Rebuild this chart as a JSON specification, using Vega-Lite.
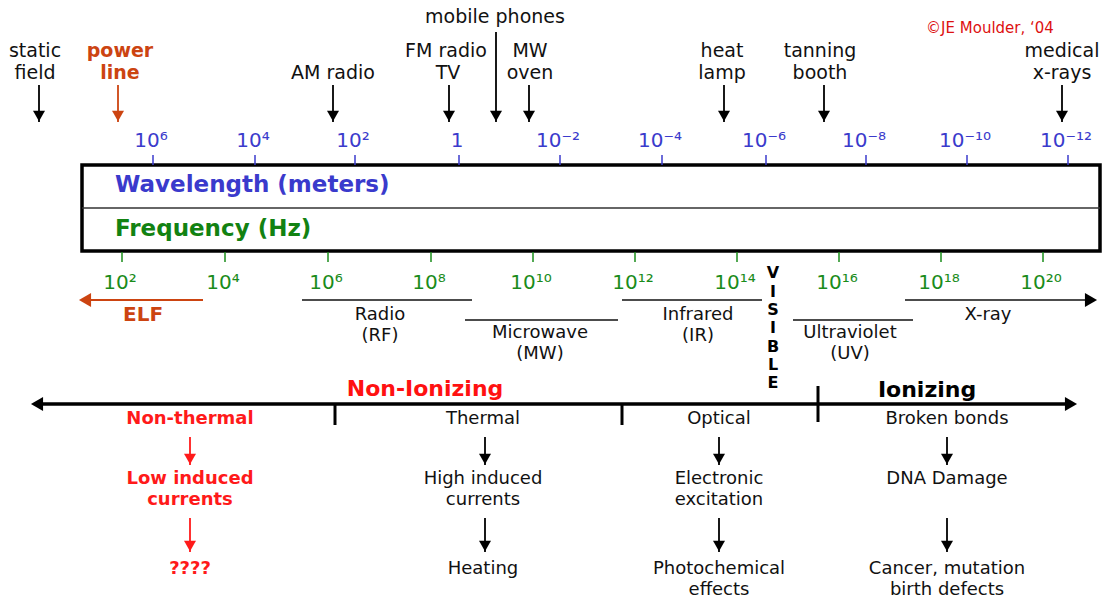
{
  "$schema": "https://vega.github.io/schema/vega-lite/v6.json",
  "width": 1117,
  "height": 607,
  "autosize": {"type": "fit", "contains": "padding"},
  "padding": 0,
  "background": "white",
  "config": {"view": {"stroke": null}, "text": {"font": "DejaVu Sans"}},
  "datasets": {
    "box": [{"x": 82, "x2": 1100, "y": 165, "y2": 251}],
    "hlines": [
      {"x": 82, "x2": 1100, "y": 208, "role": "mid"},
      {"x": 302, "x2": 472, "y": 300, "role": "band"},
      {"x": 465, "x2": 618, "y": 320, "role": "band"},
      {"x": 622, "x2": 762, "y": 300, "role": "band"},
      {"x": 793, "x2": 913, "y": 320, "role": "band"},
      {"x": 905, "x2": 1090, "y": 300, "role": "band"},
      {"x": 86, "x2": 203, "y": 300, "role": "elf"},
      {"x": 40, "x2": 1068, "y": 404, "role": "axis"}
    ],
    "vlines": [
      {"x": 335, "y": 404, "y2": 425},
      {"x": 622, "y": 404, "y2": 425},
      {"x": 818, "y": 386, "y2": 422}
    ],
    "hheads": [
      {"x": 78, "y": 300, "dir": "left", "role": "org"},
      {"x": 1098, "y": 300, "dir": "right", "role": "blk"},
      {"x": 30, "y": 404, "dir": "left", "role": "blk"},
      {"x": 1078, "y": 404, "dir": "right", "role": "blk"}
    ],
    "arrows": [
      {"x": 39, "y": 85, "y2": 122, "role": "blk"},
      {"x": 118, "y": 85, "y2": 122, "role": "org"},
      {"x": 333, "y": 85, "y2": 122, "role": "blk"},
      {"x": 449, "y": 85, "y2": 122, "role": "blk"},
      {"x": 496, "y": 32, "y2": 122, "role": "blk"},
      {"x": 529, "y": 85, "y2": 122, "role": "blk"},
      {"x": 724, "y": 85, "y2": 122, "role": "blk"},
      {"x": 824, "y": 85, "y2": 122, "role": "blk"},
      {"x": 1062, "y": 85, "y2": 122, "role": "blk"},
      {"x": 190, "y": 437, "y2": 465, "role": "red"},
      {"x": 190, "y": 518, "y2": 552, "role": "red"},
      {"x": 485, "y": 437, "y2": 465, "role": "blk"},
      {"x": 485, "y": 518, "y2": 552, "role": "blk"},
      {"x": 719, "y": 437, "y2": 465, "role": "blk"},
      {"x": 719, "y": 518, "y2": 552, "role": "blk"},
      {"x": 947, "y": 437, "y2": 465, "role": "blk"},
      {"x": 947, "y": 518, "y2": 552, "role": "blk"}
    ],
    "wavelength": [
      {"x": 153, "y": 141, "text": "10⁶"},
      {"x": 255, "y": 141, "text": "10⁴"},
      {"x": 355, "y": 141, "text": "10²"},
      {"x": 459, "y": 141, "text": "1"},
      {"x": 560, "y": 141, "text": "10⁻²"},
      {"x": 662, "y": 141, "text": "10⁻⁴"},
      {"x": 766, "y": 141, "text": "10⁻⁶"},
      {"x": 866, "y": 141, "text": "10⁻⁸"},
      {"x": 967, "y": 141, "text": "10⁻¹⁰"},
      {"x": 1068, "y": 141, "text": "10⁻¹²"}
    ],
    "frequency": [
      {"x": 122, "y": 283, "text": "10²"},
      {"x": 225, "y": 283, "text": "10⁴"},
      {"x": 328, "y": 283, "text": "10⁶"},
      {"x": 431, "y": 283, "text": "10⁸"},
      {"x": 533, "y": 283, "text": "10¹⁰"},
      {"x": 635, "y": 283, "text": "10¹²"},
      {"x": 737, "y": 283, "text": "10¹⁴"},
      {"x": 839, "y": 283, "text": "10¹⁶"},
      {"x": 941, "y": 283, "text": "10¹⁸"},
      {"x": 1043, "y": 283, "text": "10²⁰"}
    ],
    "texts": [
      {"x": 35, "y": 51, "text": "static", "role": "top"},
      {"x": 35, "y": 73, "text": "field", "role": "top"},
      {"x": 120, "y": 51, "text": "power", "role": "topRed"},
      {"x": 120, "y": 73, "text": "line", "role": "topRed"},
      {"x": 333, "y": 73, "text": "AM radio", "role": "top"},
      {"x": 446, "y": 51, "text": "FM radio", "role": "top"},
      {"x": 448, "y": 73, "text": "TV", "role": "top"},
      {"x": 495, "y": 17, "text": "mobile phones", "role": "top"},
      {"x": 530, "y": 51, "text": "MW", "role": "top"},
      {"x": 530, "y": 73, "text": "oven", "role": "top"},
      {"x": 722, "y": 51, "text": "heat", "role": "top"},
      {"x": 722, "y": 73, "text": "lamp", "role": "top"},
      {"x": 820, "y": 51, "text": "tanning", "role": "top"},
      {"x": 820, "y": 73, "text": "booth", "role": "top"},
      {"x": 1062, "y": 51, "text": "medical", "role": "top"},
      {"x": 1062, "y": 73, "text": "x-rays", "role": "top"},
      {"x": 990, "y": 28, "text": "©JE Moulder, ‘04", "role": "copy"},
      {"x": 115, "y": 185, "text": "Wavelength (meters)", "role": "boxW"},
      {"x": 115, "y": 229, "text": "Frequency (Hz)", "role": "boxF"},
      {"x": 143, "y": 315, "text": "ELF", "role": "elf"},
      {"x": 380, "y": 315, "text": "Radio", "role": "band"},
      {"x": 380, "y": 336, "text": "(RF)", "role": "band"},
      {"x": 540, "y": 333, "text": "Microwave", "role": "band"},
      {"x": 540, "y": 354, "text": "(MW)", "role": "band"},
      {"x": 698, "y": 315, "text": "Infrared", "role": "band"},
      {"x": 698, "y": 336, "text": "(IR)", "role": "band"},
      {"x": 850, "y": 333, "text": "Ultraviolet", "role": "band"},
      {"x": 850, "y": 354, "text": "(UV)", "role": "band"},
      {"x": 988, "y": 315, "text": "X-ray", "role": "band"},
      {"x": 773, "y": 273, "text": "V", "role": "vis"},
      {"x": 773, "y": 292, "text": "I", "role": "vis"},
      {"x": 773, "y": 310, "text": "S", "role": "vis"},
      {"x": 773, "y": 328, "text": "I", "role": "vis"},
      {"x": 773, "y": 347, "text": "B", "role": "vis"},
      {"x": 773, "y": 365, "text": "L", "role": "vis"},
      {"x": 773, "y": 383, "text": "E", "role": "vis"},
      {"x": 425, "y": 389, "text": "Non-Ionizing", "role": "nonion"},
      {"x": 927, "y": 390, "text": "Ionizing", "role": "ion"},
      {"x": 190, "y": 419, "text": "Non-thermal", "role": "redb"},
      {"x": 190, "y": 479, "text": "Low induced", "role": "redb"},
      {"x": 190, "y": 500, "text": "currents", "role": "redb"},
      {"x": 190, "y": 569, "text": "????", "role": "redb"},
      {"x": 483, "y": 419, "text": "Thermal", "role": "body"},
      {"x": 483, "y": 479, "text": "High induced", "role": "body"},
      {"x": 483, "y": 500, "text": "currents", "role": "body"},
      {"x": 483, "y": 569, "text": "Heating", "role": "body"},
      {"x": 719, "y": 419, "text": "Optical", "role": "body"},
      {"x": 719, "y": 479, "text": "Electronic", "role": "body"},
      {"x": 719, "y": 500, "text": "excitation", "role": "body"},
      {"x": 719, "y": 569, "text": "Photochemical", "role": "body"},
      {"x": 719, "y": 590, "text": "effects", "role": "body"},
      {"x": 947, "y": 419, "text": "Broken bonds", "role": "body"},
      {"x": 947, "y": 479, "text": "DNA Damage", "role": "body"},
      {"x": 947, "y": 569, "text": "Cancer, mutation", "role": "body"},
      {"x": 947, "y": 590, "text": "birth defects", "role": "body"}
    ]
  },
  "encoding": {
    "x": {"field": "x", "type": "quantitative", "scale": {"domain": [0, 1117], "nice": false, "zero": false}, "axis": null},
    "y": {"field": "y", "type": "quantitative", "scale": {"domain": [0, 607], "reverse": true, "nice": false, "zero": false}, "axis": null}
  },
  "layer": [
    {
      "data": {"name": "box"},
      "mark": {"type": "rect", "fill": "transparent", "stroke": "#000", "strokeWidth": 3.5},
      "encoding": {"x2": {"field": "x2"}, "y2": {"field": "y2"}}
    },
    {
      "data": {"name": "hlines"},
      "transform": [{"filter": "datum.role === 'mid'"}],
      "mark": {"type": "rule", "color": "#333333", "strokeWidth": 1.5},
      "encoding": {"x2": {"field": "x2"}}
    },
    {
      "data": {"name": "hlines"},
      "transform": [{"filter": "datum.role === 'band'"}],
      "mark": {"type": "rule", "color": "#111111", "strokeWidth": 1.5},
      "encoding": {"x2": {"field": "x2"}}
    },
    {
      "data": {"name": "hlines"},
      "transform": [{"filter": "datum.role === 'elf'"}],
      "mark": {"type": "rule", "color": "#cc4411", "strokeWidth": 2},
      "encoding": {"x2": {"field": "x2"}}
    },
    {
      "data": {"name": "hlines"},
      "transform": [{"filter": "datum.role === 'axis'"}],
      "mark": {"type": "rule", "color": "#000000", "strokeWidth": 3.5},
      "encoding": {"x2": {"field": "x2"}}
    },
    {
      "data": {"name": "vlines"},
      "mark": {"type": "rule", "color": "#000000", "strokeWidth": 3},
      "encoding": {"y2": {"field": "y2"}}
    },
    {
      "data": {"name": "hheads"},
      "transform": [{"filter": "datum.dir === 'left'"}],
      "mark": {"type": "point", "shape": "triangle-left", "filled": true, "opacity": 1, "size": 196, "xOffset": 7},
      "encoding": {
        "color": {"field": "role", "type": "nominal", "scale": {"domain": ["blk", "org", "red"], "range": ["#000000", "#cc4411", "#ff1a1a"]}, "legend": null}
      }
    },
    {
      "data": {"name": "hheads"},
      "transform": [{"filter": "datum.dir === 'right'"}],
      "mark": {"type": "point", "shape": "triangle-right", "filled": true, "opacity": 1, "size": 196, "xOffset": -7},
      "encoding": {
        "color": {"field": "role", "type": "nominal", "legend": null}
      }
    },
    {
      "data": {"name": "arrows"},
      "mark": {"type": "rule", "strokeWidth": 1.8},
      "encoding": {
        "y2": {"field": "y2"},
        "color": {"field": "role", "type": "nominal", "legend": null}
      }
    },
    {
      "data": {"name": "arrows"},
      "mark": {"type": "point", "shape": "triangle-down", "filled": true, "opacity": 1, "size": 144, "yOffset": -6},
      "encoding": {
        "y": {"field": "y2", "type": "quantitative"},
        "color": {"field": "role", "type": "nominal", "legend": null}
      }
    },
    {
      "data": {"name": "wavelength"},
      "mark": {"type": "rule", "color": "#3b3bcc", "strokeWidth": 1.5},
      "encoding": {"y": {"datum": 155}, "y2": {"datum": 165}}
    },
    {
      "data": {"name": "wavelength"},
      "mark": {"type": "text", "fontSize": 20, "color": "#3b3bcc", "baseline": "middle", "align": "center", "dx": -2},
      "encoding": {"text": {"field": "text"}}
    },
    {
      "data": {"name": "frequency"},
      "mark": {"type": "rule", "color": "#1a8c1a", "strokeWidth": 1.5},
      "encoding": {"y": {"datum": 252}, "y2": {"datum": 262}}
    },
    {
      "data": {"name": "frequency"},
      "mark": {"type": "text", "fontSize": 20, "color": "#1a8c1a", "baseline": "middle", "align": "center", "dx": -2},
      "encoding": {"text": {"field": "text"}}
    },
    {
      "data": {"name": "texts"},
      "transform": [{"filter": "datum.role === 'top'"}],
      "mark": {"type": "text", "fontSize": 19, "color": "#111111", "baseline": "middle", "align": "center"},
      "encoding": {"text": {"field": "text"}}
    },
    {
      "data": {"name": "texts"},
      "transform": [{"filter": "datum.role === 'topRed'"}],
      "mark": {"type": "text", "fontSize": 19, "fontWeight": "bold", "color": "#cc4411", "baseline": "middle", "align": "center"},
      "encoding": {"text": {"field": "text"}}
    },
    {
      "data": {"name": "texts"},
      "transform": [{"filter": "datum.role === 'copy'"}],
      "mark": {"type": "text", "fontSize": 15, "color": "#dd1111", "baseline": "middle", "align": "center"},
      "encoding": {"text": {"field": "text"}}
    },
    {
      "data": {"name": "texts"},
      "transform": [{"filter": "datum.role === 'boxW'"}],
      "mark": {"type": "text", "fontSize": 23, "fontWeight": "bold", "color": "#3a3acc", "baseline": "middle", "align": "left"},
      "encoding": {"text": {"field": "text"}}
    },
    {
      "data": {"name": "texts"},
      "transform": [{"filter": "datum.role === 'boxF'"}],
      "mark": {"type": "text", "fontSize": 23, "fontWeight": "bold", "color": "#128212", "baseline": "middle", "align": "left"},
      "encoding": {"text": {"field": "text"}}
    },
    {
      "data": {"name": "texts"},
      "transform": [{"filter": "datum.role === 'elf'"}],
      "mark": {"type": "text", "fontSize": 20, "fontWeight": "bold", "color": "#cc4411", "baseline": "middle", "align": "center"},
      "encoding": {"text": {"field": "text"}}
    },
    {
      "data": {"name": "texts"},
      "transform": [{"filter": "datum.role === 'band'"}],
      "mark": {"type": "text", "fontSize": 18, "color": "#111111", "baseline": "middle", "align": "center"},
      "encoding": {"text": {"field": "text"}}
    },
    {
      "data": {"name": "texts"},
      "transform": [{"filter": "datum.role === 'vis'"}],
      "mark": {"type": "text", "fontSize": 16, "fontWeight": "bold", "color": "#000000", "baseline": "middle", "align": "center"},
      "encoding": {"text": {"field": "text"}}
    },
    {
      "data": {"name": "texts"},
      "transform": [{"filter": "datum.role === 'nonion'"}],
      "mark": {"type": "text", "fontSize": 22, "fontWeight": "bold", "color": "#ff1111", "baseline": "middle", "align": "center"},
      "encoding": {"text": {"field": "text"}}
    },
    {
      "data": {"name": "texts"},
      "transform": [{"filter": "datum.role === 'ion'"}],
      "mark": {"type": "text", "fontSize": 22, "fontWeight": "bold", "color": "#000000", "baseline": "middle", "align": "center"},
      "encoding": {"text": {"field": "text"}}
    },
    {
      "data": {"name": "texts"},
      "transform": [{"filter": "datum.role === 'redb'"}],
      "mark": {"type": "text", "fontSize": 18, "fontWeight": "bold", "color": "#ff1a1a", "baseline": "middle", "align": "center"},
      "encoding": {"text": {"field": "text"}}
    },
    {
      "data": {"name": "texts"},
      "transform": [{"filter": "datum.role === 'body'"}],
      "mark": {"type": "text", "fontSize": 18, "color": "#111111", "baseline": "middle", "align": "center"},
      "encoding": {"text": {"field": "text"}}
    }
  ]
}
